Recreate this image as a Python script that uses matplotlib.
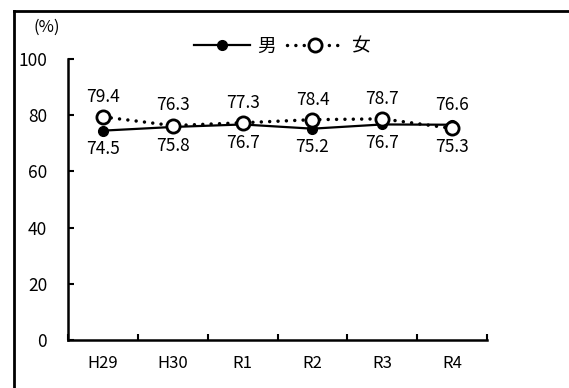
import matplotlib.pyplot as plt
from matplotlib.lines import Line2D

plt.rcParams['font.family'] = ['Noto Sans CJK JP', 'DejaVu Sans']

# 年度と男女別の割合（%）
years = ['H29', 'H30', 'R1', 'R2', 'R3', 'R4']
male = [74.5, 75.8, 76.7, 75.2, 76.7, 76.6]
female = [79.4, 76.3, 77.3, 78.4, 78.7, 75.3]

fig = plt.figure(figsize=(5.69, 3.88), dpi=100)
ax = fig.add_axes([0.1195, 0.1237, 0.7365, 0.7243])

x = list(range(len(years)))
ax.plot(x, male, color='black', linewidth=1.6, marker='o', markersize=7,
        markerfacecolor='black', markeredgecolor='black', label='男', zorder=3)
ax.plot(x, female, color='black', linewidth=2.5, linestyle=(0, (0.01, 2.4)),
        dash_capstyle='round', marker='o', markersize=9.5, markerfacecolor='white',
        markeredgecolor='black', markeredgewidth=2, label='女', zorder=4)

# 値ラベル：高い方を上、低い方を下に
for i in x:
    hi, lo = max(male[i], female[i]), min(male[i], female[i])
    ax.annotate(f'{hi:.1f}', (i, hi), textcoords='offset points', xytext=(0, 8),
                ha='center', va='bottom', fontsize=12.5)
    ax.annotate(f'{lo:.1f}', (i, lo), textcoords='offset points', xytext=(0, -7),
                ha='center', va='top', fontsize=12.5)

ax.set_xlim(-0.5, len(years) - 0.5)
ax.set_ylim(0, 100)
ax.set_yticks([0, 20, 40, 60, 80, 100])
ax.set_xticks(x)
ax.set_xticklabels(years)
ax.set_xticks([i - 0.5 for i in range(len(years) + 1)], minor=True)
ax.tick_params(axis='x', which='major', length=0, pad=11, labelsize=12)
ax.tick_params(axis='x', which='minor', direction='in', length=4, width=1.5)
ax.tick_params(axis='y', direction='in', length=4, width=1.5, pad=15, labelsize=12.5)

for side in ['top', 'right']:
    ax.spines[side].set_visible(False)
for side in ['left', 'bottom']:
    ax.spines[side].set_linewidth(1.8)

fig.text(0.058, 0.93, '(%)', fontsize=12, ha='left', va='center')

ax.legend(loc='center', bbox_to_anchor=(0.51, 1.045), ncol=2, frameon=False,
          fontsize=13.5, handlelength=3.0, columnspacing=0.6, handletextpad=0.4)

# 外枠
fig.add_artist(Line2D([0.0246, 0.0246], [0.0, 0.971], transform=fig.transFigure,
                      color='black', linewidth=2))
fig.add_artist(Line2D([0.0246, 1.0], [0.971, 0.971], transform=fig.transFigure,
                      color='black', linewidth=2))

fig.savefig('out.png', dpi=100)
